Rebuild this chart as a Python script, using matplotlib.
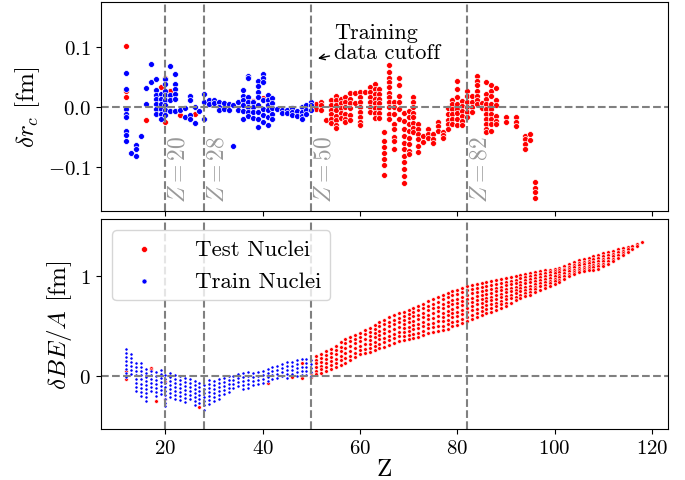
import matplotlib
matplotlib.use("Agg")
import matplotlib.pyplot as plt
import numpy as np

plt.rcParams["font.family"] = "serif"
plt.rcParams["font.serif"] = ["cmr10", "DejaVu Serif"]
plt.rcParams["mathtext.fontset"] = "cm"
plt.rcParams["axes.formatter.use_mathtext"] = True

# charge radius residuals, per proton number Z
rc_train = {
    12: [0.056, 0.030, -0.003, -0.012, -0.017, -0.039, -0.047, -0.056],
    13: [-0.077], 14: [-0.063, -0.069, -0.081], 15: [-0.048],
    16: [0.031, 0.005], 17: [0.072, 0.041],
    18: [0.046, 0.028, 0.020, 0.013, 0.005, -0.003, -0.012],
    19: [0.022, 0.013, 0.005, -0.003, -0.012, -0.020],
    20: [0.047, 0.038, 0.027, 0.020, 0.012, 0.003, -0.005, -0.013],
    21: [0.069, 0.020, 0.012, -0.007],
    22: [0.055, 0.038, 0.030, 0.022, 0.013, -0.007],
    23: [-0.004], 24: [-0.001, -0.017], 25: [0.019, 0.012, -0.013, -0.020],
    26: [0.001, -0.027], 27: [-0.007], 28: [0.022, 0.008, -0.019],
    29: [0.012, 0.005], 30: [0.011, 0.006], 31: [0.008, 0.000, -0.005],
    32: [0.006, -0.003], 33: [0.005, -0.005], 34: [0.003, -0.064],
    35: [0.008, -0.004],
    36: [0.029, 0.019, 0.011, 0.003, -0.006, -0.019],
    37: [0.052, 0.048, 0.016, 0.008, 0.000, -0.008, -0.015],
    38: [0.008, 0.000, -0.008, -0.018],
    39: [0.044, 0.035, 0.025, 0.016, 0.003, -0.008, -0.020, -0.033],
    40: [0.055, 0.048, 0.041, 0.011, -0.003, -0.013, -0.024],
    41: [0.020, 0.011, 0.003, -0.005, -0.016, -0.030],
    42: [0.015, 0.006, -0.002, -0.011, -0.019],
    43: [-0.003], 44: [-0.005, -0.010], 45: [-0.005, -0.010],
    46: [-0.002, -0.008, -0.013], 47: [-0.006, -0.015],
    48: [0.000, -0.008, -0.014, -0.020], 49: [0.003, -0.004, -0.012],
    50: [0.008, 0.003, -0.004],
}
rc_test = {
    12: [0.101, 0.026, 0.017], 16: [-0.021], 19: [0.033], 20: [0.049, -0.024],
    21: [0.027], 23: [-0.013], 26: [-0.012], 38: [0.010], 40: [0.015],
    41: [0.005], 44: [-0.005], 47: [-0.012],
    51: [0.005, -0.003], 52: [0.009, 0.003, -0.005], 53: [-0.021],
    54: [0.011, 0.003, -0.005, -0.012, -0.020, -0.027],
    55: [0.019, 0.011, 0.003, -0.005, -0.014, -0.022, -0.030, -0.035],
    56: [0.014, 0.006, -0.002, -0.010, -0.018],
    57: [0.017, 0.008, 0.000, -0.011, -0.020, -0.025],
    58: [0.024, 0.014, 0.006, -0.002, -0.013, -0.021],
    59: [0.023, 0.006],
    60: [0.025, 0.017, 0.008, 0.000, -0.008, -0.017, -0.025, -0.030],
    61: [0.025],
    62: [0.034, 0.025, 0.017, 0.008, 0.000, -0.008],
    63: [0.039, 0.030, 0.022, 0.014, 0.006, -0.002, -0.010, -0.018],
    64: [0.030, 0.022, 0.014, 0.006, -0.002, -0.010, -0.018],
    65: [-0.042, -0.056, -0.067, -0.076, -0.087, -0.097, -0.113],
    66: [0.070, 0.059, 0.049, 0.041, 0.033, 0.024, 0.016, 0.008, 0.000, -0.012, -0.020],
    67: [0.008, 0.000, -0.012, -0.028, -0.037, -0.049, -0.056, -0.070],
    68: [0.049, 0.036, 0.019, 0.008, -0.003, -0.020],
    69: [-0.009, -0.023, -0.037, -0.048, -0.059, -0.070, -0.081, -0.092, -0.103, -0.114, -0.127],
    70: [-0.006, -0.017, -0.028, -0.039, -0.051, -0.062, -0.073, -0.078],
    71: [0.016, 0.008, 0.000, -0.009, -0.017, -0.026, -0.034, -0.042],
    72: [-0.028, -0.037, -0.045, -0.053, -0.064, -0.074],
    73: [-0.048, -0.058], 74: [-0.036, -0.044, -0.052],
    75: [-0.045, -0.053, -0.060], 76: [-0.025, -0.032, -0.039],
    77: [-0.041, -0.047, -0.052],
    78: [-0.002, -0.012, -0.021, -0.028, -0.036],
    79: [0.012, 0.005, -0.003, -0.012, -0.020, -0.028],
    80: [0.043, 0.030, 0.016, 0.005, -0.003, -0.010, -0.020, -0.030],
    81: [0.010, 0.002, -0.006, -0.014, -0.023, -0.030],
    82: [0.027, 0.019, 0.008, 0.000, -0.008, -0.017],
    83: [0.018, 0.009, 0.000, -0.008],
    84: [0.052, 0.044, 0.036, 0.027, 0.019, 0.011, 0.005],
    85: [0.006, -0.002],
    86: [0.041, 0.022, 0.013, 0.005, -0.003, -0.012, -0.020, -0.028, -0.037, -0.042],
    87: [0.036, 0.027, 0.019, 0.005, -0.003, -0.012, -0.020, -0.028, -0.039],
    88: [0.032, 0.012, 0.003, -0.014, -0.023, -0.028],
    90: [-0.017, -0.025], 92: [-0.017, -0.025, -0.031],
    94: [-0.048, -0.053, -0.062, -0.070], 95: [-0.045, -0.054],
    96: [-0.124, -0.134, -0.142, -0.151],
}

# binding energy per nucleon residuals
be_train = {
    12: [0.27, 0.23, 0.19, 0.15, 0.11, 0.07, 0.03, -0.01],
    13: [0.22, 0.18, 0.14, 0.10, 0.06, 0.02],
    14: [0.13, 0.09, 0.05, 0.01, -0.03, -0.07, -0.11, -0.15],
    15: [0.13, 0.09, 0.05, 0.01, -0.03, -0.08, -0.12, -0.16, -0.20],
    16: [0.07, 0.03, -0.01, -0.05, -0.09, -0.13, -0.17, -0.21, -0.25],
    17: [0.05, 0.01, -0.03, -0.07, -0.11, -0.15],
    18: [0.04, 0.00, -0.04, -0.08, -0.12, -0.16, -0.20],
    19: [0.06, 0.02, -0.02, -0.06, -0.10, -0.14, -0.18],
    20: [0.01, -0.03, -0.07, -0.11, -0.15, -0.19, -0.23, -0.27, -0.30],
    21: [0.03, -0.01, -0.05, -0.09, -0.13, -0.17, -0.21],
    22: [0.01, -0.03, -0.07, -0.11, -0.15, -0.19, -0.23],
    23: [0.00, -0.04, -0.08, -0.12, -0.16, -0.20, -0.24],
    24: [-0.02, -0.06, -0.10, -0.14, -0.18, -0.22, -0.26],
    25: [-0.03, -0.07, -0.11, -0.15, -0.19, -0.23],
    26: [-0.05, -0.09, -0.13, -0.17, -0.21, -0.25, -0.29],
    27: [-0.07, -0.11, -0.15, -0.19, -0.23, -0.27],
    28: [-0.09, -0.13, -0.17, -0.21, -0.25, -0.29, -0.34],
    29: [-0.04, -0.08, -0.12, -0.16, -0.20, -0.24, -0.28],
    30: [-0.05, -0.09, -0.13, -0.17, -0.21, -0.25],
    31: [-0.03, -0.07, -0.11, -0.15, -0.19, -0.23],
    32: [-0.02, -0.06, -0.10, -0.14, -0.18],
    33: [0.00, -0.04, -0.08, -0.12, -0.16],
    34: [0.00, -0.04, -0.08, -0.12],
    35: [0.02, -0.02, -0.06, -0.10],
    36: [0.03, -0.01, -0.05, -0.09, -0.13],
    37: [0.04, 0.00, -0.04, -0.08, -0.12],
    38: [0.03, -0.01, -0.05, -0.09],
    39: [0.04, 0.00, -0.04, -0.08],
    40: [0.05, 0.01, -0.03, -0.07],
    41: [0.07, 0.03, -0.01, -0.05],
    42: [0.09, 0.05, 0.01, -0.03],
    43: [0.10, 0.06, 0.02, -0.02],
    44: [0.12, 0.08, 0.04, 0.00],
    45: [0.14, 0.10, 0.06, 0.02, -0.02],
    46: [0.14, 0.10, 0.06, 0.02],
    47: [0.16, 0.12, 0.08, 0.04, 0.00],
    48: [0.17, 0.09, 0.05, 0.01],
    49: [0.17, 0.13, 0.09, 0.05, 0.01],
    50: [0.16, 0.12, 0.08, 0.04, 0.00],
}
be_test = {
    12: [0.05, -0.03], 17: [0.08, 0.06], 18: [-0.25], 20: [-0.06, -0.23],
    27: [-0.31], 41: [-0.07], 46: [-0.01], 48: [0.13, -0.02], 50: [0.03, -0.01],
    51: [0.20, 0.16, 0.13, 0.09, 0.05, 0.02],
    52: [0.22, 0.18, 0.14, 0.10, 0.07, 0.03],
    53: [0.25, 0.21, 0.17, 0.13, 0.09, 0.05],
    54: [0.27, 0.23, 0.19, 0.15, 0.11, 0.07],
    55: [0.30, 0.26, 0.22, 0.17, 0.13, 0.09],
    56: [0.34, 0.29, 0.25, 0.20, 0.16, 0.11],
    57: [0.37, 0.33, 0.28, 0.23, 0.18, 0.13],
    58: [0.39, 0.35, 0.30, 0.25, 0.20, 0.16],
    59: [0.41, 0.37, 0.33, 0.28, 0.23, 0.19],
    60: [0.43, 0.39, 0.35, 0.30, 0.26, 0.22],
    61: [0.46, 0.42, 0.37, 0.32, 0.27, 0.23],
    62: [0.48, 0.44, 0.40, 0.36, 0.32, 0.28, 0.24],
    63: [0.51, 0.47, 0.43, 0.39, 0.34, 0.30, 0.26],
    64: [0.54, 0.50, 0.45, 0.41, 0.37, 0.32, 0.28],
    65: [0.56, 0.52, 0.47, 0.43, 0.38, 0.34, 0.29],
    66: [0.59, 0.54, 0.50, 0.45, 0.40, 0.36, 0.31],
    67: [0.61, 0.56, 0.52, 0.47, 0.42, 0.38, 0.33],
    68: [0.63, 0.58, 0.54, 0.49, 0.44, 0.40, 0.35],
    69: [0.64, 0.60, 0.56, 0.52, 0.48, 0.44, 0.40, 0.36],
    70: [0.66, 0.62, 0.58, 0.54, 0.49, 0.45, 0.41, 0.37],
    71: [0.68, 0.64, 0.60, 0.55, 0.51, 0.47, 0.42, 0.38],
    72: [0.70, 0.66, 0.61, 0.57, 0.52, 0.48, 0.43, 0.39],
    73: [0.72, 0.68, 0.63, 0.59, 0.54, 0.50, 0.45, 0.41],
    74: [0.75, 0.70, 0.66, 0.61, 0.57, 0.52, 0.48, 0.43],
    75: [0.77, 0.72, 0.68, 0.63, 0.58, 0.53, 0.49, 0.44],
    76: [0.79, 0.74, 0.69, 0.65, 0.60, 0.55, 0.50, 0.45],
    77: [0.81, 0.77, 0.72, 0.68, 0.63, 0.59, 0.55, 0.50, 0.46],
    78: [0.83, 0.79, 0.74, 0.70, 0.65, 0.61, 0.56, 0.52, 0.47],
    79: [0.85, 0.81, 0.76, 0.72, 0.67, 0.63, 0.59, 0.54, 0.50],
    80: [0.86, 0.82, 0.77, 0.73, 0.69, 0.64, 0.60, 0.55, 0.51],
    81: [0.88, 0.84, 0.79, 0.75, 0.71, 0.66, 0.62, 0.57, 0.53],
    82: [0.90, 0.86, 0.81, 0.77, 0.73, 0.68, 0.64, 0.59, 0.55],
    83: [0.91, 0.87, 0.83, 0.78, 0.74, 0.70, 0.66, 0.61, 0.57],
    84: [0.92, 0.88, 0.84, 0.80, 0.76, 0.72, 0.67, 0.63, 0.59],
    85: [0.93, 0.89, 0.85, 0.81, 0.77, 0.73, 0.69, 0.65, 0.61],
    86: [0.94, 0.90, 0.86, 0.82, 0.78, 0.75, 0.71, 0.67, 0.63],
    87: [0.95, 0.91, 0.87, 0.83, 0.79, 0.76, 0.72, 0.68, 0.64],
    88: [0.96, 0.92, 0.88, 0.85, 0.81, 0.77, 0.73, 0.70, 0.66],
    89: [0.97, 0.93, 0.89, 0.86, 0.82, 0.79, 0.75, 0.72, 0.68],
    90: [0.98, 0.94, 0.91, 0.87, 0.84, 0.80, 0.77, 0.73, 0.70],
    91: [0.99, 0.95, 0.92, 0.88, 0.85, 0.81, 0.78, 0.73],
    92: [1.00, 0.96, 0.93, 0.89, 0.86, 0.83, 0.79, 0.76],
    93: [1.01, 0.98, 0.94, 0.91, 0.88, 0.85, 0.81, 0.78],
    94: [1.02, 0.99, 0.96, 0.93, 0.89, 0.86, 0.83, 0.80],
    95: [1.03, 1.00, 0.97, 0.94, 0.90, 0.87, 0.84, 0.81],
    96: [1.04, 1.01, 0.98, 0.95, 0.92, 0.89, 0.87, 0.84],
    97: [1.05, 1.02, 0.99, 0.96, 0.93, 0.90, 0.86],
    98: [1.06, 1.03, 1.00, 0.97, 0.94, 0.91, 0.88],
    99: [1.07, 1.04, 1.01, 0.98, 0.95, 0.93, 0.90],
    100: [1.08, 1.05, 1.03, 1.00, 0.97, 0.95, 0.92],
    101: [1.09, 1.06, 1.04, 1.01, 0.99, 0.96, 0.94],
    102: [1.11, 1.08, 1.06, 1.03, 1.00, 0.97],
    103: [1.13, 1.10, 1.08, 1.05, 1.02, 1.00],
    104: [1.15, 1.12, 1.10, 1.07, 1.04, 1.02],
    105: [1.17, 1.14, 1.12, 1.09, 1.07, 1.04],
    106: [1.18, 1.15, 1.13, 1.10, 1.08, 1.05],
    107: [1.19, 1.16, 1.14, 1.11, 1.09, 1.06],
    108: [1.21, 1.18, 1.15, 1.12, 1.10, 1.07],
    109: [1.22, 1.19, 1.16, 1.13, 1.11, 1.08],
    110: [1.24, 1.21, 1.18, 1.16, 1.13, 1.11],
    111: [1.25, 1.22, 1.19, 1.16, 1.13],
    112: [1.26, 1.23, 1.21, 1.18, 1.16],
    113: [1.28, 1.25, 1.22, 1.19],
    114: [1.29, 1.26, 1.24, 1.22],
    115: [1.30, 1.28, 1.25],
    116: [1.31, 1.28],
    117: [1.33, 1.31],
    118: [1.35],
}

magic = [20, 28, 50, 82]


def flatten(cols):
    zs, vs = [], []
    for z, vals in cols.items():
        zs += [z] * len(vals)
        vs += vals
    return np.array(zs), np.array(vs)


fig = plt.figure(figsize=(6.85, 4.81), dpi=100)
ax1 = fig.add_axes([0.147, 0.559, 0.828, 0.435])
ax2 = fig.add_axes([0.147, 0.106, 0.828, 0.437], sharex=ax1)

z, v = flatten(rc_test)
ax1.scatter(z, v, s=18, c="r", edgecolors="white", linewidths=0.5)
z, v = flatten(rc_train)
ax1.scatter(z, v, s=18, c="b", edgecolors="white", linewidths=0.5)

z, v = flatten(be_test)
ax2.scatter(z, v, s=7, c="r", edgecolors="white", linewidths=0.4, label="Test Nuclei")
z, v = flatten(be_train)
ax2.scatter(z, v, s=5, c="b", edgecolors="white", linewidths=0.4, label="Train Nuclei")

for ax in (ax1, ax2):
    ax.axhline(0, color="gray", ls="--", lw=1.5)
    for m in magic:
        ax.axvline(m, color="gray", ls="--", lw=1.5)
    ax.tick_params(labelsize=15)

for m in magic:
    ax1.text(m + 0.5, -0.158, r"$Z=%d$" % m, rotation=90, color="gray",
             alpha=0.8, fontsize=17, ha="left", va="bottom")

ax1.annotate("", xy=(50.8, 0.080), xytext=(54.3, 0.086),
             arrowprops=dict(arrowstyle="->", color="black", lw=1))
ax1.text(54.6, 0.075, "Training\ndata cutoff", fontsize=16, ha="left",
         va="bottom", linespacing=1.0)

ax1.set_ylim(-0.173, 0.175)
ax1.set_yticks([-0.1, 0.0, 0.1])
ax1.set_yticklabels([r"$-0.1$", r"$0.0$", r"$0.1$"])
ax1.set_ylabel(r"$\delta r_c$ [fm]", fontsize=18)
ax1.tick_params(labelbottom=False)

ax2.set_ylim(-0.535, 1.58)
ax2.set_yticks([0, 1])
ax2.set_yticklabels([r"$0$", r"$1$"])
ax2.set_xticks([20, 40, 60, 80, 100, 120])
ax2.set_xticklabels([r"$%d$" % t for t in [20, 40, 60, 80, 100, 120]])
ax2.set_ylabel(r"$\delta BE/A$ [fm]", fontsize=18)
ax2.set_xlabel("Z", fontsize=18, labelpad=1)
ax2.legend(loc="upper left", fontsize=16.5, markerscale=1.6, handletextpad=1.2)

fig.savefig("out.png", dpi=100)
